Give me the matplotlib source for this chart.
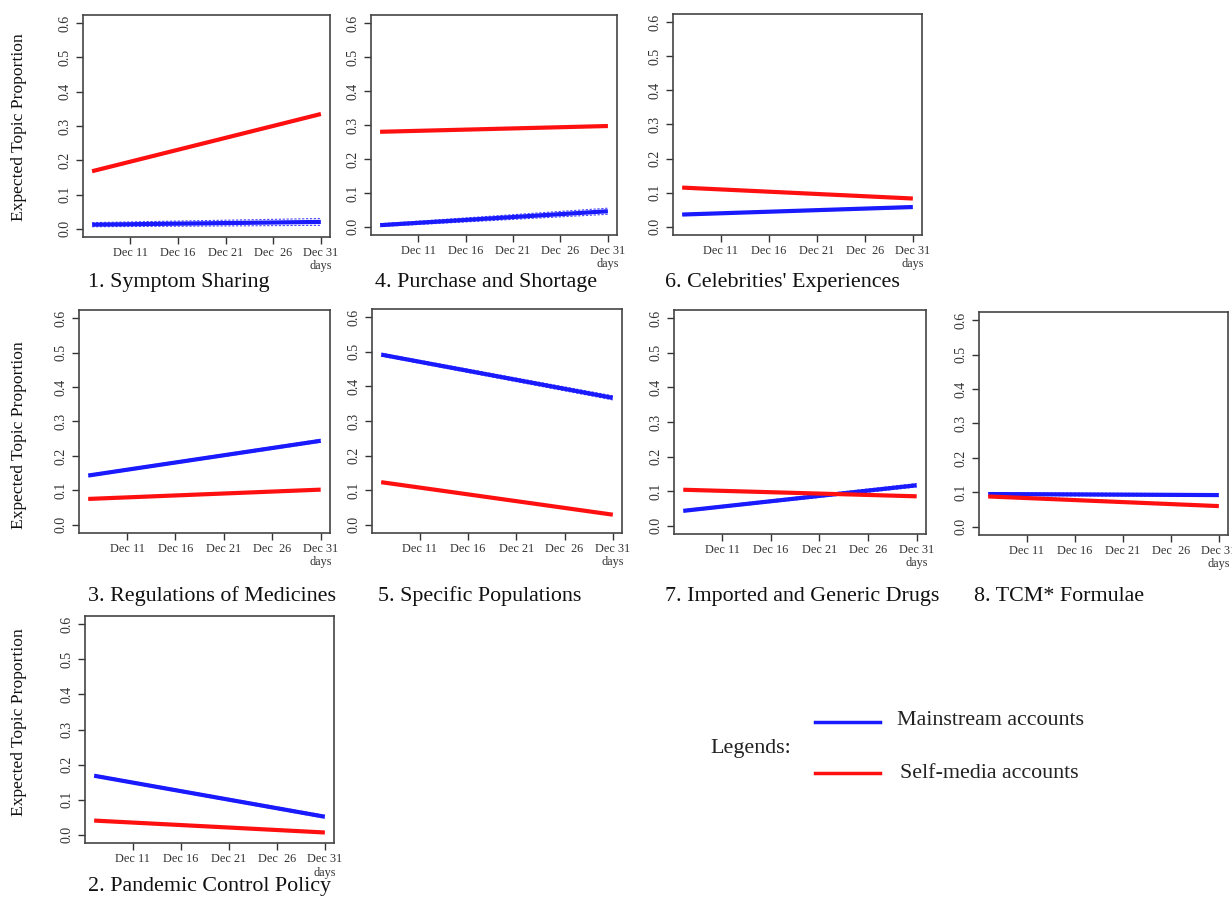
import numpy as np
import matplotlib
matplotlib.use("Agg")
import matplotlib.pyplot as plt
import matplotlib.transforms as mtransforms

plt.rcParams['font.family'] = ['Liberation Serif', 'DejaVu Serif']

W, H = 1232, 897

# days in December covered by each fitted line
day_start = 7
day_end = 31
tick_days = [11, 16, 21, 26, 31]
tick_labels = ['Dec 11', 'Dec 16', 'Dec 21', 'Dec  26', 'Dec 31']
y_ticks = [0.0, 0.1, 0.2, 0.3, 0.4, 0.5, 0.6]

# topic titles
topics = ['1. Symptom Sharing', '4. Purchase and Shortage', "6. Celebrities' Experiences",
          '3. Regulations of Medicines', '5. Specific Populations', '7. Imported and Generic Drugs',
          '8. TCM* Formulae', '2. Pandemic Control Policy']

# expected topic proportion at Dec 7 and Dec 31
mainstream_start = [0.012, 0.005, 0.036, 0.143, 0.492, 0.043, 0.095, 0.168]
mainstream_end = [0.020, 0.046, 0.058, 0.244, 0.367, 0.117, 0.092, 0.051]
selfmedia_start = [0.168, 0.280, 0.115, 0.075, 0.123, 0.104, 0.088, 0.040]
selfmedia_end = [0.335, 0.297, 0.083, 0.102, 0.029, 0.085, 0.060, 0.006]
# half width of the confidence band at Dec 7 and Dec 31
mainstream_ci_start = [0.006, 0.004, 0.002, 0.003, 0.004, 0.003, 0.004, 0.003]
mainstream_ci_end = [0.010, 0.009, 0.003, 0.004, 0.006, 0.005, 0.004, 0.004]
selfmedia_ci_start = [0.002, 0.002, 0.002, 0.002, 0.002, 0.002, 0.002, 0.002]
selfmedia_ci_end = [0.003, 0.002, 0.002, 0.002, 0.002, 0.002, 0.002, 0.002]

# panel boxes in pixels: left, top, right, bottom
boxes = [(83, 15, 330, 237), (371, 15, 617, 235), (673, 14, 922, 235),
         (79, 310, 330, 533), (372, 309, 622, 533), (674, 310, 926, 534),
         (979, 312, 1228, 535), (85, 616, 334, 843)]
title_pos = [(88, 282), (375, 282), (665, 282),
             (88, 596), (378, 596), (665, 596), (974, 596), (88, 886)]
ylabel_pos = [(19, 127), (19, 435), (19, 722)]

BLUE = '#1a1aff'
RED = '#ff1010'

fig = plt.figure(figsize=(W / 100, H / 100), dpi=100)


def draw_series(ax, y0, y1, c0, c1, color):
    xs = [day_start, day_end]
    ax.plot(xs, [y0, y1], color=color, lw=3.0, solid_capstyle='butt')
    ax.plot(xs, [y0 + c0, y1 + c1], color=color, lw=0.8, ls=(0, (2, 1.5)), alpha=0.8)
    ax.plot(xs, [y0 - c0, y1 - c1], color=color, lw=0.8, ls=(0, (2, 1.5)), alpha=0.8)


for i, (l, t, r, b) in enumerate(boxes):
    ax = fig.add_axes([l / W, 1 - b / H, (r - l) / W, (b - t) / H])
    draw_series(ax, mainstream_start[i], mainstream_end[i],
                mainstream_ci_start[i], mainstream_ci_end[i], BLUE)
    draw_series(ax, selfmedia_start[i], selfmedia_end[i],
                selfmedia_ci_start[i], selfmedia_ci_end[i], RED)
    pad = (day_end - day_start) * 0.04
    ax.set_xlim(day_start - pad, day_end + pad)
    ax.set_ylim(-0.024, 0.624)
    ax.set_xticks(tick_days)
    ax.set_xticklabels(tick_labels, fontsize=8.8, color='#333333')
    ax.set_yticks(y_ticks)
    ax.set_yticklabels(['%.1f' % v for v in y_ticks], fontsize=10, color='#333333',
                       rotation=90, va='center')
    ax.tick_params(direction='out', length=5, width=1, color='#333333', pad=3)
    ax.tick_params(axis='x', pad=2)
    for s in ax.spines.values():
        s.set_color('#444444')
        s.set_linewidth(1.2)
    trans = mtransforms.blended_transform_factory(ax.transData, ax.transAxes)
    ax.text(day_end, -0.13, 'days', transform=trans, ha='center', va='center',
            fontsize=8.8, color='#333333')
    tx, ty = title_pos[i]
    fig.text(tx / W, 1 - ty / H, topics[i], ha='left', va='center', fontsize=15.8, color='#111111')

for x, y in ylabel_pos:
    fig.text(x / W, 1 - y / H, 'Expected Topic Proportion', rotation=90,
             ha='center', va='center', fontsize=12.6, color='#111111')

# legend drawn as free text and lines, as in the original figure
fig.text(710 / W, 1 - 748 / H, 'Legends:', ha='left', va='center', fontsize=15.8, color='#222222')
fig.add_artist(plt.Line2D([815 / W, 880 / W], [1 - 722 / H, 1 - 722 / H], color=BLUE, lw=2.5))
fig.add_artist(plt.Line2D([815 / W, 880 / W], [1 - 773 / H, 1 - 773 / H], color=RED, lw=2.5))
fig.text(897 / W, 1 - 720 / H, 'Mainstream accounts', ha='left', va='center', fontsize=15.8, color='#222222')
fig.text(900 / W, 1 - 773 / H, 'Self-media accounts', ha='left', va='center', fontsize=15.8, color='#222222')

fig.savefig('out.png', dpi=100)
